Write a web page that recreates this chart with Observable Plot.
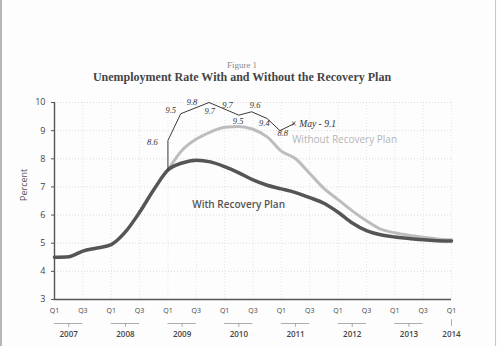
<!DOCTYPE html>
<html>
<head>
<meta charset="utf-8">
<script src="https://cdn.jsdelivr.net/npm/d3@7"></script>
<script src="https://cdn.jsdelivr.net/npm/@observablehq/plot@0.6"></script>
<style>
  html, body { margin: 0; padding: 0; background: #fff; }
  #wrap { position: relative; width: 500px; height: 346px; overflow: hidden; background: #fdfdfd; }
  #wrap svg { position: absolute; left: 0; top: 0; }
  .fig { position: absolute; left: 0; width: 484px; text-align: center; font-family: "Liberation Serif", serif; }
  #fignum { top: 60px; font-size: 9px; color: #8a8a8a; }
  #title { top: 70px; font-size: 12px; font-weight: bold; color: #454545; }
  .edge { position: absolute; top: 0; width: 2px; height: 346px; background: #b5b5b5; }
</style>
</head>
<body>
<div id="wrap">
  <div class="edge" style="left:0"></div>
  <div class="edge" style="left:495px;width:1px;background:#c8c8c8"></div>
  <div id="fignum" class="fig">Figure 1</div>
  <div id="title" class="fig">Unemployment Rate With and Without the Recovery Plan</div>
</div>
<script>
// quarter index: 0 = 2007 Q1 ... 28 = 2014 Q1
const withPlan = [4.5,4.52,4.72,4.83,4.95,5.4,6.1,6.9,7.6,7.85,7.95,7.89,7.72,7.5,7.25,7.06,6.93,6.8,6.62,6.42,6.1,5.72,5.45,5.3,5.22,5.17,5.12,5.09,5.08];
const withoutStart = 8;
const withoutPlan = [7.6,8.3,8.7,8.95,9.12,9.15,9.05,8.78,8.27,8.0,7.48,6.95,6.55,6.15,5.8,5.5,5.37,5.28,5.21,5.15,5.12];
// handwritten actual-rate line
const handQ = [8,8,8.9,10.9,13,13.9,15,15.9,16.9];
const handVal = [7.6,8.65,9.6,10.0,9.55,9.67,9.43,9.0,9.25];
const handLabels = ["8.6","9.5","9.8","9.7","9.7","9.6","9.5","9.4","8.8"];
const handLabelQ = [6.9,8.2,9.7,10.95,12.2,14.15,12.95,14.8,16.1];
const handLabelV = [8.6,9.73,10.02,9.7,9.9,9.9,9.35,9.25,8.9];
const mayLabel = "× May - 9.1";
const mayQ = 16.65, mayV = 9.23;
const years = ["2007","2008","2009","2010","2011","2012","2013"];
const lastYear = "2014";
const yTicks = [3,4,5,6,7,8,9,10];

const withData = withPlan.map((v,i)=>({q:i, v}));
const withoutData = withoutPlan.map((v,i)=>({q:i+withoutStart, v}));
const handData = handQ.map((q,i)=>({q, v:handVal[i]}));
const handLab = handLabels.map((t,i)=>({t, q:handLabelQ[i], v:handLabelV[i]}));
const qLabels = d3.range(0,29,2).map(q=>({q, t: q%4===0 ? "Q1" : "Q3"}));
const yearData = years.map((y,i)=>({y, q0:i*4, q1:i*4+2, qc:i*4+1}));
const base = () => 3;
const stem = {draw(context, l) { context.moveTo(0, 0); context.lineTo(0, -l); }};

const chart = Plot.plot({
  width: 500, height: 346,
  marginLeft: 54, marginRight: 49, marginTop: 102, marginBottom: 47,
  style: {background: "transparent", fontFamily: "'Open Sans', sans-serif", overflow: "visible"},
  x: {domain: [0,28], axis: null},
  y: {domain: [3,10], axis: null},
  marks: [
    Plot.gridY(yTicks.slice(1), {stroke: "#bbb", strokeOpacity: 0.5, strokeDasharray: "1,2"}),
    Plot.gridX(d3.range(2,29,2), {stroke: "#bbb", strokeOpacity: 0.35, strokeDasharray: "1,2"}),
    Plot.axisY(yTicks, {tickSize: 3, tickPadding: 6, fontSize: 9, color: "#444", label: null, stroke: "#555"}),
    Plot.text(["Percent"], {frameAnchor: "left", rotate: -90, dx: -30, dy: 0, fontSize: 9, fill: "#555"}),
    Plot.ruleX([0], {y1: 3, y2: 10, stroke: "#555", strokeWidth: 1.4}),
    Plot.ruleY([3], {x1: 0, x2: 28, stroke: "#555", strokeWidth: 1.4}),
    Plot.text(qLabels, {x: "q", frameAnchor: "bottom", dy: 13, text: "t", fontSize: 7, fill: "#444"}),
    Plot.ruleY(yearData, {y: base, x1: "q0", x2: "q1", dy: 24, stroke: "#999", strokeWidth: 0.8}),
    Plot.vector(yearData, {x: "qc", y: base, length: 3, rotate: 180, anchor: "start", shape: stem, dy: 24, stroke: "#999", strokeWidth: 0.8}),
    Plot.vector([lastYear], {x: () => 28, y: base, length: 6, rotate: 180, anchor: "start", shape: stem, dy: 20, stroke: "#999", strokeWidth: 0.8}),
    Plot.text(yearData, {x: "qc", frameAnchor: "bottom", dy: 37, text: "y", fontSize: 8, fontWeight: 600, fill: "#444"}),
    Plot.text([lastYear], {x: () => 28, frameAnchor: "bottom", dy: 37, text: d => d, fontSize: 8, fontWeight: 600, fill: "#444"}),
    Plot.line(withoutData, {x: "q", y: "v", stroke: "#bdbdbd", strokeWidth: 3, curve: "monotone-x"}),
    Plot.line(withData, {x: "q", y: "v", stroke: "#555", strokeWidth: 3.5, curve: "monotone-x"}),
    Plot.line(handData, {x: "q", y: "v", stroke: "#3a3a3a", strokeWidth: 1}),
    Plot.text(handLab, {x: "q", y: "v", text: "t", fontSize: 8.5, fontStyle: "italic", fill: "#333", fontFamily: "'Liberation Serif', serif"}),
    Plot.text([mayLabel], {x: () => mayQ, y: () => mayV, text: d => d, textAnchor: "start", fontSize: 9.5, fontStyle: "italic", fill: "#333", fontFamily: "'Liberation Serif', serif"}),
    Plot.text(["Without Recovery Plan"], {x: () => 16.76, y: () => 8.69, text: d => d, textAnchor: "start", fontSize: 10, fill: "#b5b5b5"}),
    Plot.text(["With Recovery Plan"], {x: () => 9.71, y: () => 6.35, text: d => d, textAnchor: "start", fontSize: 10, fontWeight: 600, fill: "#555"})
  ]
});
document.getElementById("wrap").insertBefore(chart, document.getElementById("wrap").firstChild);
</script>
</body>
</html>
